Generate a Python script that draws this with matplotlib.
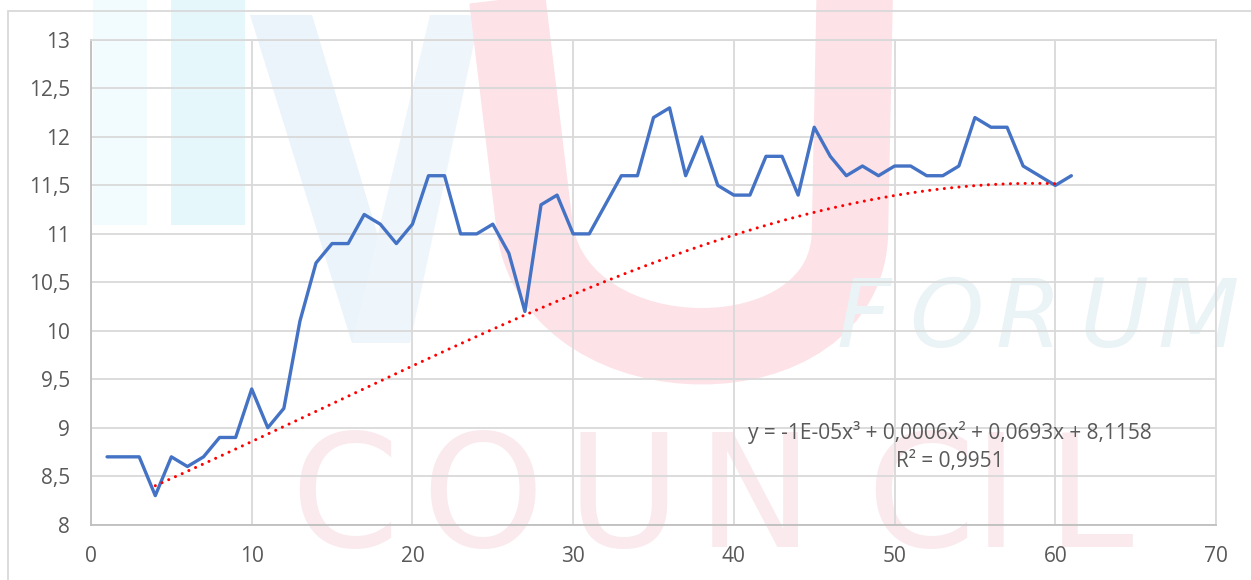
import numpy as np
import matplotlib.pyplot as plt
from matplotlib.path import Path
from matplotlib.patches import PathPatch, Rectangle, Polygon

# data
x_vals = list(range(1, 62))
y_vals = [8.7, 8.7, 8.7, 8.3, 8.7, 8.6, 8.7, 8.9, 8.9, 9.4,
          9.0, 9.2, 10.1, 10.7, 10.9, 10.9, 11.2, 11.1, 10.9, 11.1,
          11.6, 11.6, 11.0, 11.0, 11.1, 10.8, 10.2, 11.3, 11.4, 11.0,
          11.0, 11.3, 11.6, 11.6, 12.2, 12.3, 11.6, 12.0, 11.5, 11.4,
          11.4, 11.8, 11.8, 11.4, 12.1, 11.8, 11.6, 11.7, 11.6, 11.7,
          11.7, 11.6, 11.6, 11.7, 12.2, 12.1, 12.1, 11.7, 11.6, 11.5,
          11.6]

# points read along the dotted trendline
trend_x = [4, 10, 12, 20, 27, 30, 40, 45, 50, 55, 60]
trend_y = [8.40, 8.85, 9.04, 9.60, 10.18, 10.38, 11.00, 11.21, 11.39, 11.50, 11.52]

eq_text = 'y = -1E-05x³ + 0,0006x² + 0,0693x + 8,1158'
r2_text = 'R² = 0,9951'

W, H = 1251, 580
fig = plt.figure(figsize=(W / 100, H / 100), dpi=100)
fig.patch.set_facecolor('white')

def fp(x, y):
    # pixel (from top-left) -> figure fraction
    return x / W, 1 - y / H

# faint watermark behind the chart (logo of the source site)
fig.add_artist(Rectangle(fp(93, 225), 54 / W, 225 / H, facecolor='#F2FBFD',
                         edgecolor='none', zorder=-3))
fig.add_artist(Rectangle(fp(171, 225), 74 / W, 225 / H, facecolor='#E6F7FC',
                         edgecolor='none', zorder=-3))
fig.add_artist(Polygon([fp(250, 15), fp(312, 15), fp(410, 343), fp(352, 343)],
                       closed=True, facecolor='#EAF4FA', edgecolor='none', zorder=-3))
fig.add_artist(Polygon([fp(352, 343), fp(410, 343), fp(480, 15), fp(430, 15)],
                       closed=True, facecolor='#EEF6FB', edgecolor='none', zorder=-3))
verts = [fp(505, -20), fp(535, 230), fp(560, 385), fp(850, 385), fp(850, 230), fp(855, -20)]
codes = [Path.MOVETO, Path.LINETO, Path.CURVE4, Path.CURVE4, Path.CURVE4, Path.LINETO]
fig.add_artist(PathPatch(Path(verts, codes), facecolor='none', edgecolor='#FDE2E7',
                         lw=55, transform=fig.transFigure, zorder=-2))
forum = ['F', 'O', 'R', 'U', 'M']
forum_x = [864, 946, 1028, 1114, 1198]
for ch, cx in zip(forum, forum_x):
    fig.text(*fp(cx, 347), ch, fontsize=68, style='italic', color='#EAF3F6',
             ha='center', va='baseline', zorder=-2)
council = ['C', 'O', 'U', 'N', 'C', 'I', 'L']
council_x = [345, 482, 623, 755, 921, 996, 1090]
for ch, cx in zip(council, council_x):
    fig.text(*fp(cx, 547), ch, fontsize=112, color='#FAEAED', ha='center',
             va='baseline', zorder=-2)

# outer chart border (cut off at right and bottom)
fig.add_artist(Rectangle((8 / W, -0.5), 2, 1.5 - 11 / H, fill=False,
                         edgecolor='#D9D9D9', lw=1.3, zorder=-1,
                         transform=fig.transFigure))

ax = fig.add_axes([91 / W, 1 - 524.7 / H, (1216 - 91) / W, (524.7 - 40) / H])
ax.set_facecolor('none')

ax.plot(x_vals, y_vals, color='#4472C4', lw=2.4, solid_joinstyle='round',
        solid_capstyle='round', zorder=3)

coef = np.polyfit(trend_x, trend_y, 3)
tx = np.linspace(trend_x[0], trend_x[-1], 300)
ax.plot(tx, np.polyval(coef, tx), color='#FF0000', lw=2.2, dashes=(0.01, 2.4),
        dash_capstyle='round', zorder=4)

ax.set_xlim(0, 70)
ax.set_ylim(8, 13)
xt = list(range(0, 71, 10))
yt = list(np.arange(8, 13.01, 0.5))
ax.set_xticks(xt)
ax.set_yticks(yt)
ax.set_xticklabels([str(v) for v in xt])
ax.set_yticklabels([('%g' % v).replace('.', ',') for v in yt])
ax.tick_params(length=0, labelsize=15, labelcolor='#595959', pad=15)
for lab in ax.get_xticklabels() + ax.get_yticklabels():
    lab.set_fontfamily('Open Sans')

ax.set_axisbelow(True)
ax.grid(True, color='#D9D9D9', lw=1.3)
for side in ['top', 'right']:
    ax.spines[side].set_color('#D9D9D9')
    ax.spines[side].set_linewidth(1.3)
for side in ['left', 'bottom']:
    ax.spines[side].set_color('#BFBFBF')
    ax.spines[side].set_linewidth(1.3)

fig.text(*fp(950, 432), eq_text, fontsize=15, family='Open Sans', color='#595959',
         ha='center', va='center')
fig.text(*fp(950, 461), r2_text, fontsize=15, family='Open Sans', color='#595959',
         ha='center', va='center')

plt.savefig('out.png', dpi=100)
